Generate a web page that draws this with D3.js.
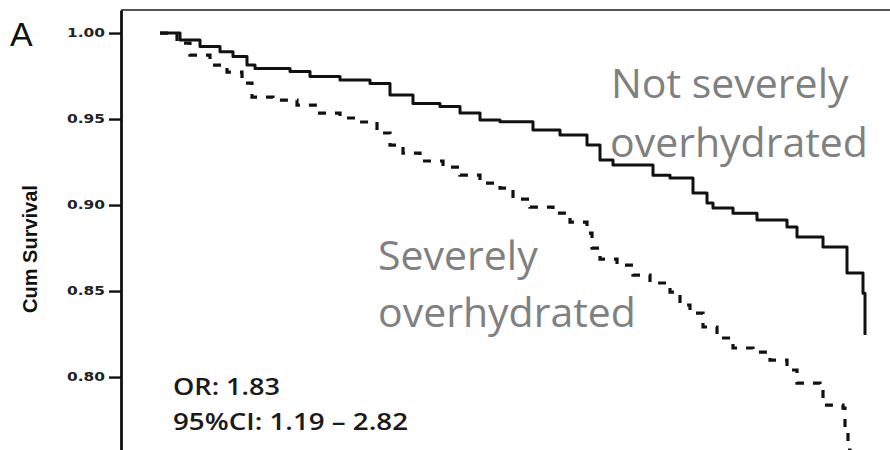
<!DOCTYPE html>
<html>
<head>
<meta charset="utf-8">
<script src="https://cdn.jsdelivr.net/npm/d3@7"></script>
<style>
  html, body { margin: 0; padding: 0; background: #fff; }
  svg { display: block; }
</style>
</head>
<body>
<svg id="chart" width="890" height="450"></svg>
<script>
// Kaplan–Meier cumulative survival, time in months
const notSevereTime = [0, 2.0, 4.0, 6.0, 7.3, 8.7, 9.5, 13.0, 15.0, 18.0, 21.0, 23.0, 25.3, 28.0, 30.0, 32.0, 34.0, 37.3, 40.0, 42.7, 44.0, 45.3, 49.3, 51.0, 53.3, 54.7, 55.3, 57.3, 59.7, 62.7, 63.7, 66.3, 68.7, 70.3, 70.5];
const notSevereSurv = [1.000, 0.9959, 0.9922, 0.9892, 0.9863, 0.9814, 0.9794, 0.9776, 0.9747, 0.9727, 0.9706, 0.9640, 0.9590, 0.9573, 0.9535, 0.9494, 0.9485, 0.9436, 0.9407, 0.9349, 0.9262, 0.9233, 0.9174, 0.9157, 0.9070, 0.9012, 0.8983, 0.8953, 0.8913, 0.8872, 0.8814, 0.8756, 0.8605, 0.8488, 0.8244];

const severeTime = [0, 1.7, 3.0, 5.0, 6.7, 8.2, 9.2, 11.3, 13.7, 15.7, 18.0, 20.0, 21.7, 23.0, 24.3, 26.0, 28.3, 30.0, 32.0, 34.0, 35.3, 37.0, 39.3, 41.0, 42.7, 43.2, 44.0, 45.7, 47.3, 49.0, 51.0, 52.0, 53.0, 54.3, 55.7, 57.3, 59.3, 61.0, 62.7, 63.7, 66.0, 66.3, 68.3, 68.5, 68.8, 69.0];
const severeSurv = [1.000, 0.9942, 0.9872, 0.9814, 0.9773, 0.9709, 0.9628, 0.9610, 0.9581, 0.9535, 0.9506, 0.9483, 0.9419, 0.9349, 0.9302, 0.9256, 0.9221, 0.9174, 0.9128, 0.9099, 0.9035, 0.8988, 0.8953, 0.8901, 0.8837, 0.8750, 0.8686, 0.8651, 0.8593, 0.8547, 0.8494, 0.8419, 0.8372, 0.8291, 0.8227, 0.8169, 0.8145, 0.8099, 0.8041, 0.7965, 0.7942, 0.7837, 0.7820, 0.7709, 0.7576, 0.7500];

const yTickValues = [0.80, 0.85, 0.90, 0.95, 1.00];
const yTitle = "Cum Survival";
const panelLabel = "A";
const labelNotSevere = ["Not severely", "overhydrated"];
const labelSevere = ["Severely", "overhydrated"];
const statLines = ["OR: 1.83", "95%CI: 1.19 \u2013 2.82"];

const svg = d3.select("#chart");
const axisX = 121, plotTop = 10, plotBottom = 450, plotRight = 890;

const x = d3.scaleLinear().domain([0, 72]).range([160, 880]);
const y = d3.scaleLinear().domain([0.7576, 1.0134]).range([plotBottom, plotTop]);

// clip area for the curves
svg.append("defs").append("clipPath").attr("id", "plotClip")
  .append("rect")
  .attr("x", axisX).attr("y", plotTop)
  .attr("width", plotRight - axisX).attr("height", plotBottom - plotTop);

// top frame line
svg.append("line")
  .attr("x1", axisX).attr("x2", plotRight)
  .attr("y1", plotTop).attr("y2", plotTop)
  .attr("stroke", "#555").attr("stroke-width", 2);

// y axis
const yAxis = d3.axisLeft(y)
  .tickValues(yTickValues)
  .tickFormat(d3.format(".2f"))
  .tickSizeInner(12)
  .tickSizeOuter(0)
  .tickPadding(4);

const gY = svg.append("g")
  .attr("transform", `translate(${axisX},0)`)
  .call(yAxis);
gY.select(".domain").attr("stroke", "#111").attr("stroke-width", 2.8);
gY.selectAll(".tick line").attr("stroke", "#111").attr("stroke-width", 2.4);
gY.selectAll(".tick text")
  .attr("font-family", "DejaVu Sans")
  .attr("font-weight", "bold")
  .attr("font-size", 12)
  .attr("fill", "#222")
  .attr("textLength", 38)
  .attr("lengthAdjust", "spacingAndGlyphs");

// y axis title
svg.append("text")
  .attr("transform", "translate(37,249) rotate(-90)")
  .attr("text-anchor", "middle")
  .attr("font-family", "Liberation Sans Narrow, Liberation Sans")
  .attr("font-weight", "bold")
  .attr("font-size", 20)
  .attr("fill", "#111")
  .text(yTitle);

// panel label
svg.append("text")
  .attr("x", 10).attr("y", 46)
  .attr("font-family", "Liberation Sans")
  .attr("font-size", 34)
  .attr("fill", "#111")
  .text(panelLabel);

// survival curves
const stepLine = d3.line()
  .x(d => x(d[0]))
  .y(d => y(d[1]))
  .curve(d3.curveStepAfter);

const curves = svg.append("g").attr("clip-path", "url(#plotClip)");

curves.append("path")
  .datum(d3.zip(notSevereTime, notSevereSurv))
  .attr("d", stepLine)
  .attr("fill", "none")
  .attr("stroke", "#111")
  .attr("stroke-width", 3)
  .attr("stroke-linejoin", "round");

curves.append("path")
  .datum(d3.zip(severeTime, severeSurv))
  .attr("d", stepLine)
  .attr("fill", "none")
  .attr("stroke", "#111")
  .attr("stroke-width", 3.2)
  .attr("stroke-dasharray", "8,9");

// curve annotations
const annot = svg.append("g")
  .attr("font-family", "Open Sans")
  .attr("font-size", 41)
  .attr("fill", "#808080");

annot.append("text").attr("x", 611).attr("y", 98).text(labelNotSevere[0]);
annot.append("text").attr("x", 610).attr("y", 157).text(labelNotSevere[1]);
annot.append("text").attr("x", 378).attr("y", 270).text(labelSevere[0]);
annot.append("text").attr("x", 378).attr("y", 327).text(labelSevere[1]);

// odds ratio
const stats = svg.append("g")
  .attr("font-family", "Open Sans")
  .attr("font-weight", 600)
  .attr("font-size", 23)
  .attr("fill", "#1a1a1a");
stats.append("text").attr("x", 173).attr("y", 395)
  .attr("textLength", 107).attr("lengthAdjust", "spacingAndGlyphs")
  .text(statLines[0]);
stats.append("text").attr("x", 173).attr("y", 430)
  .attr("textLength", 235).attr("lengthAdjust", "spacingAndGlyphs")
  .text(statLines[1]);
</script>
</body>
</html>
